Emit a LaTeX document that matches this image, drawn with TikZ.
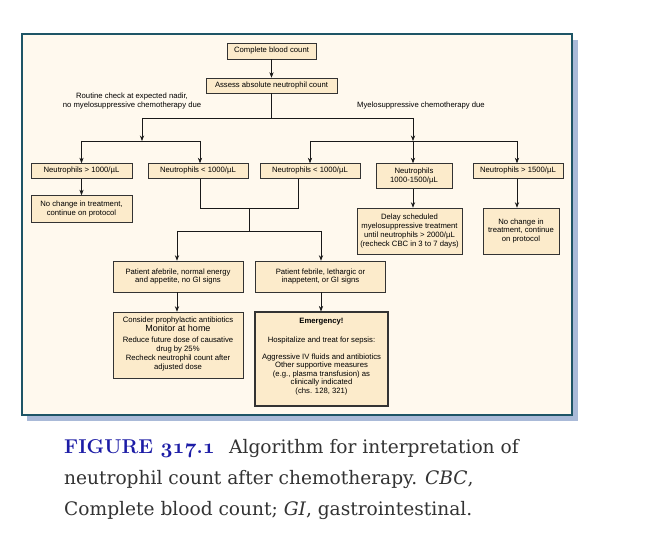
\documentclass[tikz,border=0pt]{standalone}
\usepackage{fontspec}
\newfontfamily\sansfont{Liberation Sans}
\newfontfamily\capserif{DejaVu Serif}
\usetikzlibrary{arrows.meta}
\definecolor{frameclr}{HTML}{1E5566}
\definecolor{shadowclr}{HTML}{AABAD8}
\definecolor{bgclr}{HTML}{FFF9EE}
\definecolor{boxfill}{HTML}{FCEBCB}
\definecolor{capblue}{HTML}{1C1CA6}
\definecolor{captext}{HTML}{333333}
\newcommand\boxfont{\sansfont\fontsize{7.7}{8.8}\selectfont}
\newcommand\capsize{\capserif\fontsize{18.6}{24}\selectfont}
\newcommand\osfdig{\usefont{OML}{cmm}{b}{it}}
\begin{document}
\begin{tikzpicture}[x=1pt,y=-1pt,
  box/.style={draw=black!80, line width=0.55pt, fill=boxfill, font=\boxfont, align=center, inner sep=0pt},
  conn/.style={line width=0.6pt, draw=black!90},
  arr/.style={conn, -{Stealth[length=5.5pt,width=4.2pt]}},
  lbl/.style={font=\boxfont, align=center, inner sep=0pt},
  captxt/.style={anchor=base west, inner sep=0pt, font=\capsize, text=captext}]
\useasboundingbox (0,0) rectangle (659,540);
\fill[white] (0,0) rectangle (659,540);
\fill[shadowclr] (27,40) rectangle (578,421);
\draw[frameclr, line width=2pt, fill=bgclr] (22,34) rectangle (572,415);
% boxes
\node[box, minimum width=89pt, minimum height=16pt] (cbc) at (271.5,51) {Complete blood count};
\node[box, minimum width=131pt, minimum height=15pt] (anc) at (271.5,85.5) {Assess absolute neutrophil count};
\node[lbl] (lab1) at (132,101) {Routine check at expected nadir,\\no myelosuppressive chemotherapy due};
\node[lbl] (lab2) at (421,105.5) {Myelosuppressive chemotherapy due};
\node[box, minimum width=101pt, minimum height=15pt] (n1) at (81.5,171) {Neutrophils > 1000/µL};
\node[box, minimum width=100pt, minimum height=15pt] (n2) at (198,171) {Neutrophils < 1000/µL};
\node[box, minimum width=100pt, minimum height=15pt] (n3) at (310,171) {Neutrophils < 1000/µL};
\node[box, minimum width=76pt, minimum height=25pt] (n4) at (414,176) {Neutrophils\\1000-1500/µL};
\node[box, minimum width=90pt, minimum height=15pt] (n5) at (518,171) {Neutrophils > 1500/µL};
\node[box, minimum width=101pt, minimum height=27pt] (nc1) at (81.5,209) {No change in treatment,\\continue on protocol};
\node[box, minimum width=105pt, minimum height=46pt] (delay) at (409.5,231) {Delay scheduled\\myelosuppressive treatment\\until neutrophils > 2000/µL\\(recheck CBC in 3 to 7 days)};
\node[box, minimum width=76pt, minimum height=46pt] (nc2) at (521,231) {No change in\\treatment, continue\\on protocol};
\node[box, minimum width=130pt, minimum height=31pt] (afeb) at (178,276.5) {Patient afebrile, normal energy\\and appetite, no GI signs};
\node[box, minimum width=130pt, minimum height=31pt] (feb) at (320.5,276.5) {Patient febrile, lethargic or\\inappetent, or GI signs};
\node[box, minimum width=130pt, minimum height=66pt] (cons) at (178,345) {\mbox{}\\[-5pt]Consider prophylactic antibiotics\\[0.5pt]{\fontsize{9}{9}\selectfont Monitor at home}\\[1.5pt]Reduce future dose of causative\\drug by 25\%\\[1pt]Recheck neutrophil count after\\adjusted dose};
\node[box, line width=1.1pt, minimum width=133pt, minimum height=94pt, font=\sansfont\fontsize{7.7}{8.5}\selectfont] (emerg) at (321.5,359) {\textbf{Emergency!}\\[10pt]Hospitalize and treat for sepsis:\\[8.5pt]Aggressive IV fluids and antibiotics\\Other supportive measures\\(e.g., plasma transfusion) as\\clinically indicated\\(chs. 128, 321)\\[-2pt]\mbox{}};
% connectors
\coordinate (bl) at (142,118);
\coordinate (br) at (413,118);
\coordinate (sl) at (142,141);
\coordinate (sr) at (413,141);
\coordinate (sl1) at (81.5,141);
\coordinate (sl2) at (200,141);
\coordinate (sr1) at (310,141);
\coordinate (sr2) at (517,141);
\draw[arr] (cbc.south) -- (anc.north);
\draw[conn] (anc.south) -- (anc.south |- bl);
\draw[conn] (bl) -- (br);
\draw[arr] (bl) -- (sl);
\draw[arr] (br) -- (sr);
\draw[conn] (sl1) -- (sl2);
\draw[conn] (sr1) -- (sr2);
\draw[arr] (sl1) -- (sl1 |- n1.north);
\draw[arr] (sl2) -- (sl2 |- n2.north);
\draw[arr] (sr1) -- (sr1 |- n3.north);
\draw[arr] (sr) -- (sr |- n4.north);
\draw[arr] (sr2) -- (sr2 |- n5.north);
\draw[arr] (n1.south) -- (nc1.north);
\draw[arr] (sr |- n4.south) -- (sr |- delay.north);
\draw[arr] (sr2 |- n5.south) -- (sr2 |- nc2.north);
\coordinate (m2) at (200,208);
\coordinate (m3) at (298,208);
\coordinate (mj) at (249,208);
\coordinate (mb) at (249,231);
\coordinate (bL) at (177,231);
\coordinate (bR) at (321,231);
\draw[conn] (m2 |- n2.south) -- (m2) -- (m3) -- (m3 |- n3.south);
\draw[conn] (mj) -- (mb);
\draw[conn] (bL) -- (bR);
\draw[arr] (bL) -- (bL |- afeb.north);
\draw[arr] (bR) -- (bR |- feb.north);
\draw[arr] (bL |- afeb.south) -- (bL |- cons.north);
\draw[arr] (bR |- feb.south) -- (bR |- emerg.north);
% caption
\node[captxt, font=\rmfamily\fontsize{20}{24}\selectfont\bfseries, text=capblue] (fig) at (64,453) {FIGURE {\osfdig 317}.{\osfdig 1}};
\node[captxt] (c1) at (229,453) {Algorithm for interpretation of};
\node[captxt] (c2) at (64,484) {neutrophil count after chemotherapy. \textit{CBC},};
\node[captxt] (c3) at (64,515) {Complete blood count; \textit{GI}, gastrointestinal.};
\end{tikzpicture}
\end{document}
